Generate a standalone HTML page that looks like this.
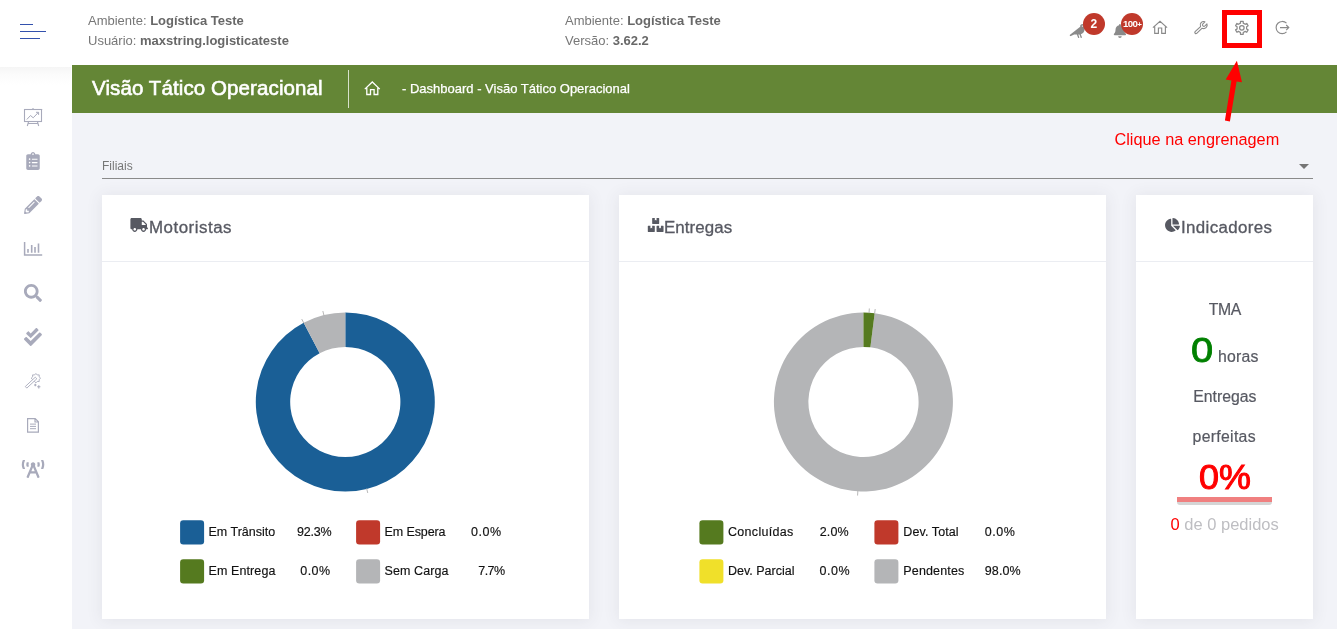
<!DOCTYPE html>
<html lang="pt-BR">
<head>
<meta charset="utf-8">
<title>Visão Tático Operacional</title>
<style>
*{box-sizing:border-box;margin:0;padding:0}
html,body{width:1337px;height:629px;overflow:hidden}
body{position:relative;background:#f2f3f8;font-family:"Liberation Sans",sans-serif;color:#444}
.abs{position:absolute}
.t{position:absolute;white-space:nowrap;line-height:1}
#header{position:absolute;left:0;top:0;width:1337px;height:67px;background:#fff;box-shadow:0 2px 6px rgba(0,0,0,.04)}
#sidebar{position:absolute;left:0;top:67px;width:72px;height:562px;background:#fff}
#sideshadow{position:absolute;left:0;top:67px;width:71px;height:18px;background:linear-gradient(#f5f5f5,#fbfbfb 40%,#fff)}
#greenbar{position:absolute;left:72px;top:65px;width:1265px;height:48px;background:#648636}
.ht{font-size:13px;color:#777}
.ht b{color:#686868;font-weight:bold}
.card{position:absolute;top:195px;height:424px;background:#fff;box-shadow:0 1px 15px 1px rgba(69,65,78,.08)}
.card .hd{position:absolute;left:0;right:0;top:0;height:67px;border-bottom:1px solid #ebedf2}
.ct{font-size:15.8px;color:#575962;transform:scaleX(1.07);transform-origin:0 0;-webkit-text-stroke:0.3px #575962}
.ind{font-size:15.8px;color:#575962;-webkit-text-stroke:0.2px #575962}
.sw{position:absolute;width:24px;height:24px;border-radius:3px}
.lg{font-size:12.5px;color:#111;-webkit-text-stroke:0.15px #111}
</style>
</head>
<body>

<div id="header"></div>
<div id="sidebar"></div>
<div id="sideshadow"></div>
<div id="greenbar"></div>

<!-- hamburger -->
<div class="abs" style="left:20px;top:24px;width:13px;height:1px;background:#3351ad"></div>
<div class="abs" style="left:20px;top:31px;width:26px;height:1px;background:#3351ad"></div>
<div class="abs" style="left:20px;top:38px;width:20px;height:1px;background:#3351ad"></div>

<!-- header text -->
<div class="t ht" style="left:88px;top:14px">Ambiente: <b>Logística Teste</b></div>
<div class="t ht" style="left:88px;top:34px">Usuário: <b>maxstring.logisticateste</b></div>
<div class="t ht" style="left:565px;top:14px">Ambiente: <b>Logística Teste</b></div>
<div class="t ht" style="left:565px;top:34px">Versão: <b>3.62.2</b></div>

<!-- green bar content -->
<div class="t" style="left:92px;top:78px;font-size:20.5px;color:#fff;letter-spacing:0.1px;-webkit-text-stroke:0.6px #fff">Visão Tático Operacional</div>
<div class="abs" style="left:348px;top:70px;width:1px;height:38px;background:rgba(255,255,255,.75)"></div>
<div class="t" style="left:402px;top:82px;font-size:13px;color:#fff;-webkit-text-stroke:0.25px #fff">- Dashboard - Visão Tático Operacional</div>

<!-- filiais -->
<div class="t" style="left:102px;top:160px;font-size:12px;color:#777">Filiais</div>
<div class="abs" style="left:102px;top:178px;width:1211px;height:1px;background:#8a8a8a"></div>
<div class="abs" style="left:1299px;top:164px;width:0;height:0;border-left:5px solid transparent;border-right:5px solid transparent;border-top:5px solid #757575"></div>

<!-- cards -->
<div class="card" style="left:102px;width:487px"><div class="hd"></div></div>
<div class="card" style="left:619px;width:487px"><div class="hd"></div></div>
<div class="card" style="left:1136px;width:177px"><div class="hd"></div></div>

<div class="t ct" style="left:148.7px;top:220.4px;letter-spacing:0.47px">Motoristas</div>
<div class="t ct" style="left:664px;top:220.4px;letter-spacing:0.06px">Entregas</div>
<div class="t ct" style="left:1180.7px;top:220.4px;letter-spacing:0.34px">Indicadores</div>
<svg class="abs" style="left:0;top:0" width="1337" height="629" viewBox="0 0 1337 629">
<path d="M345.30,312.50 A89.5,89.5 0 1 1 303.67,322.77 L319.67,353.22 A55.1,55.1 0 1 0 345.30,346.90Z" fill="#1a5f96"/>
<path d="M303.67,322.77 A89.5,89.5 0 0 1 345.30,312.50 L345.30,346.90 A55.1,55.1 0 0 0 319.67,353.22Z" fill="#b4b5b7"/>
<path d="M366.62,488.41L367.75,492.97 M303.90,323.21L301.72,319.05 M323.98,315.59L322.85,311.03" stroke="#b0b0b0" stroke-width="0.9" fill="none"/>
<path d="M874.67,313.21 A89.5,89.5 0 1 1 863.45,312.50 L863.45,346.90 A55.1,55.1 0 1 0 870.36,347.33Z" fill="#b4b5b7"/>
<path d="M863.45,312.50 A89.5,89.5 0 0 1 874.67,313.21 L870.36,347.33 A55.1,55.1 0 0 0 863.45,346.90Z" fill="#557a1f"/>
<path d="M869.04,313.18L869.33,308.48 M874.60,313.70L875.19,309.04 M857.86,490.82L857.57,495.52" stroke="#b0b0b0" stroke-width="0.9" fill="none"/>
</svg>
<!-- legends -->
<svg class="abs" style="left:179px;top:519px" width="27" height="27" viewBox="179 519 27 27"><rect x="180.1" y="520.3" width="24" height="24.1" rx="3.2" fill="#1a5f96"/></svg>
<div class="t lg" style="left:208.5px;top:526px;letter-spacing:0.0px">Em Trânsito</div>
<div class="t lg" style="left:297px;top:526px;letter-spacing:-0.2px">92.3%</div>
<svg class="abs" style="left:355px;top:519px" width="27" height="27" viewBox="355 519 27 27"><rect x="356.1" y="520.3" width="24" height="24.1" rx="3.2" fill="#c0392b"/></svg>
<div class="t lg" style="left:384.5px;top:526px;letter-spacing:-0.1px">Em Espera</div>
<div class="t lg" style="left:471px;top:526px;letter-spacing:0.5px">0.0%</div>
<svg class="abs" style="left:179px;top:558px" width="27" height="27" viewBox="179 558 27 27"><rect x="180.1" y="559.3" width="24" height="24.1" rx="3.2" fill="#557a1f"/></svg>
<div class="t lg" style="left:208.5px;top:565px;letter-spacing:0.1px">Em Entrega</div>
<div class="t lg" style="left:300.2px;top:565px;letter-spacing:0.5px">0.0%</div>
<svg class="abs" style="left:355px;top:558px" width="27" height="27" viewBox="355 558 27 27"><rect x="356.1" y="559.3" width="24" height="24.1" rx="3.2" fill="#b4b5b7"/></svg>
<div class="t lg" style="left:384.5px;top:565px;letter-spacing:0.1px">Sem Carga</div>
<div class="t lg" style="left:478.2px;top:565px;letter-spacing:-0.5px">7.7%</div>
<svg class="abs" style="left:698px;top:519px" width="27" height="27" viewBox="698 519 27 27"><rect x="699.4" y="520.3" width="24" height="24.1" rx="3.2" fill="#557a1f"/></svg>
<div class="t lg" style="left:728px;top:526px;letter-spacing:0.3px">Concluídas</div>
<div class="t lg" style="left:819.8px;top:526px;letter-spacing:0.1px">2.0%</div>
<svg class="abs" style="left:873px;top:519px" width="27" height="27" viewBox="873 519 27 27"><rect x="874.4" y="520.3" width="24" height="24.1" rx="3.2" fill="#c0392b"/></svg>
<div class="t lg" style="left:903.3px;top:526px;letter-spacing:0.1px">Dev. Total</div>
<div class="t lg" style="left:984.8px;top:526px;letter-spacing:0.5px">0.0%</div>
<svg class="abs" style="left:698px;top:558px" width="27" height="27" viewBox="698 558 27 27"><rect x="699.4" y="559.3" width="24" height="24.1" rx="3.2" fill="#f0e02a"/></svg>
<div class="t lg" style="left:728px;top:565px;letter-spacing:0.0px">Dev. Parcial</div>
<div class="t lg" style="left:819.6px;top:565px;letter-spacing:0.5px">0.0%</div>
<svg class="abs" style="left:873px;top:558px" width="27" height="27" viewBox="873 558 27 27"><rect x="874.4" y="559.3" width="24" height="24.1" rx="3.2" fill="#b4b5b7"/></svg>
<div class="t lg" style="left:903.3px;top:565px;letter-spacing:0.15px">Pendentes</div>
<div class="t lg" style="left:984.8px;top:565px;letter-spacing:0.1px">98.0%</div>

<!-- indicadores -->
<div class="t ind" style="left:1208.7px;top:302.4px;letter-spacing:-0.4px">TMA</div>
<div class="t" style="left:1191.4px;top:331.9px;font-size:35px;color:#008000;-webkit-text-stroke:0.8px #008000;transform:scaleX(1.14);transform-origin:0 0">0</div>
<div class="t ind" style="left:1218px;top:349.4px;letter-spacing:0.2px">horas</div>
<div class="t ind" style="left:1193.3px;top:389.4px">Entregas</div>
<div class="t ind" style="left:1192.6px;top:429.4px;letter-spacing:0.3px">perfeitas</div>
<div class="t" style="left:1198.7px;top:459.6px;font-size:34.5px;color:#ff0000;-webkit-text-stroke:1px #ff0000;transform:scaleX(1.04);transform-origin:0 0">0%</div>
<div class="abs" style="left:1177px;top:501px;width:95px;height:3.8px;background:#d5d5d5;border-radius:0 0 3px 3px"></div>
<div class="abs" style="left:1177px;top:497px;width:95px;height:5px;background:#f08080"></div>
<div class="t" style="left:1170.5px;top:516px;font-size:16.5px;color:#bebec2"><span style="color:#ff0000">0</span> de 0 pedidos</div>


<svg class="abs" style="left:0;top:0" width="1337" height="629" viewBox="0 0 1337 629">
<!-- sidebar icons -->
<g fill="none" stroke="#a8aabb" stroke-width="1.1">
  <rect x="24.5" y="109.5" width="17" height="12"/>
  <path d="M24,109.5H42.2 M33,108V109.5 M28.5,122L27.3,126 M37.5,122L38.7,126 M28,123.5H38"/>
  <path d="M26.8,119.5L30.5,115.5L33.2,117.8L38.3,112.5 M36,112.3H38.6V114.9" stroke-width="1"/>
  <path d="M24.6,242V255H42.2" stroke-width="1.5"/>
  <path d="M28,249V252.8 M31.7,245V252.8 M35,247V252.8 M38.5,243.5V252.8" stroke-width="1.6"/>
  <path d="M35.90,373.50 L37.24,374.97 L39.22,374.88 L39.13,376.86 L40.60,378.20 L39.13,379.54 L39.22,381.52 L37.24,381.43 L35.90,382.90 L34.56,381.43 L32.58,381.52 L32.67,379.54 L31.20,378.20 L32.67,376.86 L32.58,374.88 L34.56,374.97Z" stroke-width="0.9"/>
  <path d="M25.3,386.5L35.3,377.2L36.8,378.8L26.8,388.1Z" stroke-width="0.9" fill="#fff"/>
  <path d="M35.3,383.8V386.2 M34.1,385H36.5 M38.8,385.2V388.4 M37.2,386.8H40.4" stroke-width="1.1"/>
  <path d="M27.6,418.6H35.2L38.4,421.8V432.2H27.6Z M35,418.8V422H38.2" stroke-width="1.2"/>
  <path d="M30,424.1H36 M30,426.4H36 M30,428.7H36" stroke-width="1"/>
</g>
<path transform="translate(26.25,151.9) scale(0.03516)" d="M336 64h-80c0-35.300-28.700-64-64-64s-64 28.700-64 64H48C21.500 64 0 85.500 0 112v352c0 26.500 21.500 48 48 48h288c26.500 0 48-21.500 48-48V112c0-26.500-21.500-48-48-48zM96 424c-13.300 0-24-10.700-24-24s10.700-24 24-24 24 10.700 24 24-10.700 24-24 24zm0-96c-13.300 0-24-10.700-24-24s10.700-24 24-24 24 10.700 24 24-10.700 24-24 24zm0-96c-13.300 0-24-10.700-24-24s10.700-24 24-24 24 10.700 24 24-10.700 24-24 24zm96-192c13.300 0 24 10.700 24 24s-10.700 24-24 24-24-10.700-24-24 10.700-24 24-24zm128 368c0 4.400-3.600 8-8 8H168c-4.400 0-8-3.600-8-8v-16c0-4.400 3.600-8 8-8h144c4.400 0 8 3.600 8 8v16zm0-96c0 4.400-3.600 8-8 8H168c-4.400 0-8-3.600-8-8v-16c0-4.400 3.600-8 8-8h144c4.400 0 8 3.600 8 8v16zm0-96c0 4.400-3.600 8-8 8H168c-4.400 0-8-3.600-8-8v-16c0-4.400 3.600-8 8-8h144c4.400 0 8 3.600 8 8v16z" fill="#a8aabb"/>
<path transform="translate(24.05,195.95) scale(0.03516)" d="M497.9 142.1l-46.1 46.1c-4.7 4.7-12.3 4.7-17 0l-111-111c-4.7-4.7-4.7-12.3 0-17l46.1-46.1c18.7-18.7 49.100-18.700 67.900 0l60.100 60.100c18.800 18.700 18.800 49.100 0 67.900zM284.200 99.800L21.600 362.400.4 483.900c-2.900 16.400 11.400 30.600 27.800 27.800l121.500-21.300 262.600-262.600c4.700-4.700 4.700-12.300 0-17l-111-111c-4.800-4.700-12.400-4.700-17.100 0zM124.100 339.900c-5.500-5.500-5.500-14.300 0-19.800l154-154c5.500-5.500 14.300-5.500 19.800 0s5.500 14.300 0 19.800l-154 154c-5.500 5.500-14.300 5.500-19.800 0zM88 424h48v36.300l-64.500 11.300-31.100-31.100L51.700 376H88v48z" fill="#a8aabb"/>
<path transform="translate(23.95,284) scale(0.03516)" d="M505 442.700L405.300 343c-4.500-4.500-10.600-7-17-7H372c27.600-35.300 44-79.700 44-128C416 93.100 322.900 0 208 0S0 93.100 0 208s93.100 208 208 208c48.300 0 92.700-16.400 128-44v16.300c0 6.400 2.500 12.500 7 17l99.700 99.700c9.400 9.400 24.600 9.400 33.900 0l28.300-28.300c9.400-9.400 9.400-24.600.1-34zM208 336c-70.700 0-128-57.200-128-128 0-70.700 57.200-128 128-128 70.700 0 128 57.200 128 128 0 70.700-57.200 128-128 128z" fill="#a8aabb"/>
<path transform="translate(23.95,327.95) scale(0.03516)" d="M505 174.800l-39.600-39.600c-9.400-9.400-24.600-9.400-33.900 0L192 374.700 80.600 263.200c-9.400-9.400-24.600-9.400-33.900 0L7 302.900c-9.400 9.400-9.400 24.600 0 34L175 505c9.400 9.400 24.600 9.400 33.900 0l296-296.200c9.400-9.500 9.400-24.700.1-34zm-324.300 106c6.200 6.300 16.400 6.300 22.600 0l208-208.200c6.200-6.300 6.200-16.400 0-22.600L366.100 4.700c-6.200-6.300-16.400-6.300-22.600 0L192 156.200l-55.400-55.500c-6.200-6.300-16.400-6.300-22.600 0L68.700 146c-6.200 6.300-6.200 16.400 0 22.600l112 112.200z" fill="#a8aabb"/>
<path transform="translate(21.8,460) scale(0.03516)" d="M150.940 192h33.730c11.010 0 18.610-10.830 14.860-21.180-4.930-13.580-7.550-27.980-7.550-42.820s2.620-29.240 7.550-42.820C203.290 74.830 195.680 64 184.670 64h-33.730c-7.010 0-13.460 4.490-15.410 11.230C130.640 92.210 128 109.880 128 128c0 18.120 2.640 35.790 7.540 52.760 1.940 6.740 8.390 11.240 15.400 11.240zM89.920 23.340C95.560 12.720 87.970 0 75.960 0H40.630c-6.270 0-12.140 3.590-14.740 9.310C9.400 45.540 0 85.650 0 128c0 24.750 3.120 68.330 26.690 118.860 2.620 5.630 8.420 9.140 14.610 9.140h34.840c12.020 0 19.610-12.740 13.950-23.370-49.780-93.320-16.710-178.150-.17-209.290zM614.060 9.290C611.460 3.580 605.600 0 599.330 0h-35.420c-11.980 0-19.660 12.660-14.020 23.250 18.270 34.290 48.420 119.420.28 209.230-5.720 10.680 1.800 23.520 13.910 23.520h35.230c6.270 0 12.130-3.580 14.730-9.290C630.570 210.480 640 170.360 640 128s-9.420-82.480-25.940-118.710zM489.060 64h-33.730c-11.010 0-18.610 10.830-14.860 21.180 4.930 13.580 7.550 27.980 7.550 42.820s-2.620 29.240-7.550 42.820c-3.760 10.350 3.850 21.180 14.860 21.180h33.730c7.020 0 13.460-4.490 15.410-11.240 4.900-16.970 7.530-34.640 7.530-52.760 0-18.120-2.640-35.790-7.540-52.760-1.940-6.750-8.390-11.240-15.400-11.240zm-116.300 100.120c7.050-10.290 11.200-22.710 11.200-36.120 0-35.350-28.630-64-63.960-64-35.320 0-63.960 28.650-63.960 64 0 13.410 4.150 25.830 11.200 36.120l-130.500 313.410c-3.400 8.150.46 17.520 8.610 20.920l29.510 12.310c8.150 3.400 17.520-.46 20.910-8.610L244.960 384h150.070l49.200 118.150c3.400 8.160 12.760 12.010 20.910 8.610l29.510-12.310c8.150-3.400 12-12.770 8.610-20.920l-130.500-313.410zM271.620 320L320 203.810 368.380 320h-96.760z" fill="#a8aabb"/>


<!-- card icons -->
<path transform="translate(130.4,217.9) scale(0.02734)" d="M624 352h-16V243.900c0-12.700-5.100-24.900-14.100-33.900L494 110.100c-9-9-21.200-14.100-33.900-14.100H416V48c0-26.500-21.500-48-48-48H48C21.500 0 0 21.500 0 48v320c0 26.500 21.500 48 48 48h16c0 53 43 96 96 96s96-43 96-96h128c0 53 43 96 96 96s96-43 96-96h48c8.800 0 16-7.200 16-16v-32c0-8.800-7.200-16-16-16zM160 464c-26.500 0-48-21.500-48-48s21.500-48 48-48 48 21.500 48 48-21.500 48-48 48zm320 0c-26.500 0-48-21.500-48-48s21.500-48 48-48 48 21.500 48 48-21.500 48-48 48zm80-208H416V144h44.100l99.900 99.900V256z" fill="#575962"/>
<path transform="translate(647.8,217.9) scale(0.02734)" d="M560 288h-80v96l-32-21.300-32 21.300v-96h-80c-8.800 0-16 7.200-16 16v192c0 8.800 7.200 16 16 16h224c8.800 0 16-7.200 16-16V304c0-8.800-7.200-16-16-16zm-384-64h224c8.800 0 16-7.200 16-16V16c0-8.800-7.200-16-16-16h-80v96l-32-21.300L256 96V0h-80c-8.800 0-16 7.200-16 16v192c0 8.800 7.200 16 16 16zm64 64h-80v96l-32-21.300L96 384v-96H16c-8.800 0-16 7.200-16 16v192c0 8.800 7.200 16 16 16h224c8.800 0 16-7.200 16-16V304c0-8.800-7.200-16-16-16z" fill="#575962"/>
<path transform="translate(1165.05,217.9) scale(0.02734)" d="M527.790 288H290.500l158.030 158.030c6.040 6.040 15.980 6.530 22.190.68 38.700-36.460 65.320-85.610 73.130-140.860 1.340-9.460-6.510-17.850-16.060-17.850zm-15.830-64.800C503.720 103.740 408.260 8.280 288.800.04 279.680-.59 272 7.100 272 16.240V240h223.770c9.140 0 16.820-7.680 16.190-16.800zM224 288V50.710c0-9.550-8.390-17.400-17.840-16.060C86.990 51.490-4.100 155.600.14 280.370 4.500 408.510 114.830 513.590 243.030 511.980c50.400-.63 96.970-16.870 135.260-44.030 7.900-5.600 8.420-17.230 1.570-24.080L224 288z" fill="#575962"/>

<!-- top right icons -->
<path transform="translate(1069.7,23.9) scale(0.02734)" d="M544 32h-16.360C513.040 12.680 490.090 0 464 0c-44.180 0-80 35.820-80 80v20.980L12.090 393.570A30.216 30.216 0 0 0 0 417.740c0 22.460 23.640 37.070 43.730 27.030L165.270 384h96.490l44.410 120.100c2.270 6.230 9.150 9.440 15.380 7.170l22.550-8.210c6.230-2.270 9.440-9.150 7.170-15.380L312.940 384H352c1.910 0 3.760-.23 5.660-.29l44.510 120.380c2.270 6.230 9.150 9.440 15.380 7.170l22.550-8.210c6.230-2.270 9.440-9.150 7.170-15.380l-41.240-111.530C485.740 352.800 544 279.260 544 192v-80l96-16c0-35.350-42.980-64-96-64zm-80 72c-13.250 0-24-10.750-24-24 0-13.260 10.750-24 24-24s24 10.740 24 24c0 13.250-10.750 24-24 24z" fill="#8a8a8a"/>
<path transform="translate(1113.8,23.9) scale(0.02734)" d="M224 512c35.320 0 63.970-28.650 63.970-64H160.030c0 35.350 28.650 64 63.970 64zm215.390-149.710c-19.320-20.760-55.470-51.990-55.470-154.290 0-77.700-54.480-139.900-127.940-155.160V32c0-17.670-14.320-32-31.980-32s-31.980 14.330-31.980 32v20.840C118.560 68.100 64.080 130.300 64.080 208c0 102.300-36.150 133.530-55.470 154.290-6 6.450-8.660 14.160-8.610 21.710.11 16.400 12.980 32 32.100 32h383.800c19.120 0 32-15.600 32.100-32 .05-7.550-2.610-15.270-8.610-21.710z" fill="#8a8a8a"/>
<circle cx="1094" cy="24" r="11" fill="#c0392b"/>
<circle cx="1132" cy="24" r="11" fill="#c0392b"/>
<g fill="none" stroke="#8a8a8a" stroke-width="1.15">
  <path d="M1152.9,27.6L1160,21.3L1167.1,27.6 M1154.7,26.5V33.3H1158.4V28H1161.7V33.3H1165.4V26.5"/>
  <path d="M1204.93,21.77 A3.5,3.5 0 0 0 1200.55,26.57 L1195.09,31.69 A1.15,1.15 0 0 0 1196.71,33.31 L1202.18,28.20 A3.5,3.5 0 0 0 1206.98,23.82 L1204.93,25.87 A1.45,1.45 0 0 1 1202.88,23.82 Z" stroke-linejoin="round" stroke-width="1.1"/>
  <path d="M1240.48,23.14 L1240.48,21.39 L1243.22,21.39 L1243.22,23.14 L1245.24,24.31 L1246.75,23.43 L1248.13,25.81 L1246.61,26.68 L1246.61,29.02 L1248.13,29.89 L1246.75,32.27 L1245.24,31.39 L1243.22,32.56 L1243.22,34.31 L1240.48,34.31 L1240.48,32.56 L1238.46,31.39 L1236.95,32.27 L1235.57,29.89 L1237.09,29.02 L1237.09,26.68 L1235.57,25.81 L1236.95,23.43 L1238.46,24.31Z" stroke-linejoin="round" stroke-width="1.25"/>
  <circle cx="1241.85" cy="27.85" r="2.25" stroke-width="1.25"/>
  <path d="M1286.5,23.2A6.1,6.1 0 1 0 1286.5,31.9"/>
  <path d="M1280,27.6H1288.6 M1286.2,25L1288.8,27.6L1286.2,30.2"/>
</g>
<g fill="none" stroke="#fff" stroke-width="1.3">
  <path d="M364.8,89.1L372.3,82L379.8,89.1 M366.8,87.8V94.5H370.5V89.6H374.1V94.5H377.8V87.8"/>
</g>
</svg>
<div class="t" style="left:1090.5px;top:18.2px;font-size:12px;font-weight:bold;color:#fff">2</div>
<div class="t" style="left:1122.9px;top:20px;font-size:8.5px;font-weight:bold;color:#fff;letter-spacing:-0.55px;transform:scaleX(1.14);transform-origin:0 0">100<span style="font-size:7px;letter-spacing:0">+</span></div>

<!-- annotation -->
<div class="abs" style="left:1222px;top:10px;width:40px;height:38px;border:5px solid #ff0000"></div>
<svg class="abs" style="left:1215px;top:55px" width="40" height="72" viewBox="1215 55 40 72">
  <polygon points="1236.9,60.8 1242,82.3 1236.6,81.4 1229.9,121.5 1224.9,120.5 1231.4,80.4 1225.7,79.4" fill="#ff0000"/>
</svg>
<div class="t" style="left:1114.5px;top:131px;font-size:16.3px;color:#ff0000">Clique na engrenagem</div>

</body>
</html>
